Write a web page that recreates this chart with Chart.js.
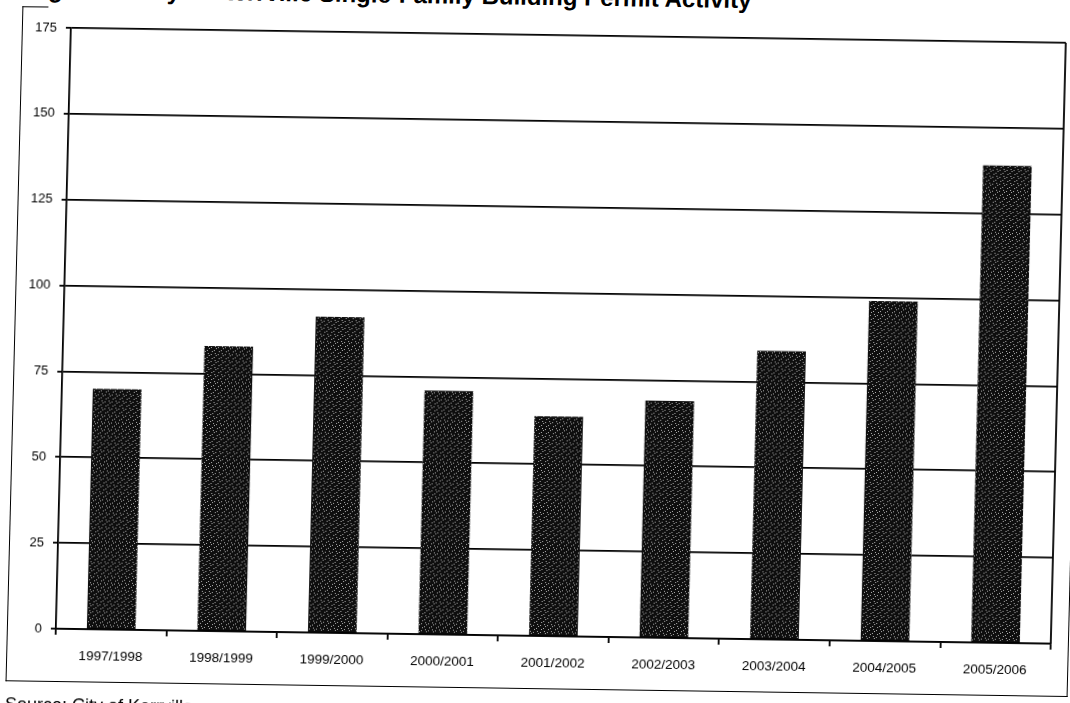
<!DOCTYPE html>
<html>
<head>
<meta charset="utf-8">
<title>Single-Family Building Permit Activity</title>
<script src="https://cdn.jsdelivr.net/npm/chart.js@4"></script>
<style>
  html, body { margin: 0; padding: 0; background: #fff; overflow: hidden; }
  #page {
    position: relative;
    width: 1070px;
    height: 703px;
    /* scanned page sits slightly crooked */
    transform: matrix(1, 0.015, -0.025, 1, 0, 0);
    transform-origin: 535px 351px;
  }
  #frame {
    position: absolute;
    left: 14px;
    top: 14px;
    width: 1060px;
    height: 674px;
    border-left: 1.5px solid #000;
    border-right: 1.5px solid #000;
    border-bottom: 1.5px solid #000;
  }
  #frameTop {
    position: absolute;
    left: 14px;
    top: 14px;
    width: 26px;
    border-top: 1.5px solid #000;
  }
  #title {
    position: absolute;
    left: 18px;
    top: -15px;
    font: bold 24px Arial, "Liberation Sans", sans-serif;
    line-height: 1;
    white-space: nowrap;
    color: #000;
  }
  #source {
    position: absolute;
    left: 14px;
    top: 703px;
    font: 18px Arial, "Liberation Sans", sans-serif;
    line-height: 1;
    white-space: nowrap;
    color: #000;
  }
  #chart { position: absolute; left: 0; top: 0; }
</style>
</head>
<body>
<div id="page">
  <div id="frame"></div>
  <div id="frameTop"></div>
  <div id="title">Figure 6: City of Kerrville Single-Family Building Permit Activity</div>
  <canvas id="chart" width="1070" height="703"></canvas>
  <div id="source">Source: City of Kerrville</div>
</div>

<script>
// fiscal years and permits issued
const lata = ["1997/1998", "1998/1999", "1999/2000", "2000/2001", "2001/2002",
              "2002/2003", "2003/2004", "2004/2005", "2005/2006"];
const pozwolenia = [70, 83, 92, 71, 64, 69, 84, 99, 139];
const osY = { min: 0, max: 175, krok: 25 };

const czcionka = 'Arial, "Liberation Sans", sans-serif';
const gruboscLinii = 1.8;

// dark stippled fill for the bars
function wzorSlupka() {
  const c = document.createElement("canvas");
  c.width = 7;
  c.height = 7;
  const g = c.getContext("2d");
  g.fillStyle = "#0e0e0e";
  g.fillRect(0, 0, 7, 7);
  g.fillStyle = "#b0b0b0";
  [[1, 2], [4, 5], [5, 1], [2, 6], [6, 3]].forEach(([x, y]) => g.fillRect(x, y, 1, 1));
  return g.createPattern(c, "repeat");
}

// right edge of the plot box
const ramkaWykresu = {
  id: "ramkaWykresu",
  afterDraw(chart) {
    const { ctx, chartArea } = chart;
    ctx.save();
    ctx.strokeStyle = "#000";
    ctx.lineWidth = gruboscLinii;
    ctx.beginPath();
    ctx.moveTo(chartArea.right, chartArea.top);
    ctx.lineTo(chartArea.right, chartArea.bottom);
    ctx.stroke();
    ctx.restore();
  },
};

new Chart(document.getElementById("chart"), {
  type: "bar",
  data: {
    labels: lata,
    datasets: [
      {
        data: pozwolenia,
        backgroundColor: wzorSlupka(),
        borderWidth: 0,
        categoryPercentage: 1,
        barPercentage: 0.44,
      },
    ],
  },
  options: {
    responsive: false,
    animation: false,
    devicePixelRatio: 1,
    layout: { padding: { left: 0, top: 35, right: 12, bottom: 27 } },
    plugins: {
      legend: { display: false },
      tooltip: { enabled: false },
    },
    scales: {
      y: {
        min: osY.min,
        max: osY.max,
        afterFit: (s) => { s.width = 63; },
        ticks: {
          stepSize: osY.krok,
          color: "#000",
          padding: 9,
          font: { family: czcionka, size: 13 },
        },
        grid: { color: "#000", lineWidth: gruboscLinii, tickLength: 5 },
        border: { color: "#000", width: gruboscLinii },
      },
      x: {
        afterFit: (s) => { s.height = 40; },
        ticks: {
          color: "#000",
          padding: 13,
          maxRotation: 0,
          font: { family: czcionka, size: 13.5 },
        },
        grid: {
          drawOnChartArea: false,
          color: "#000",
          lineWidth: gruboscLinii,
          tickLength: 6,
        },
        border: { color: "#000", width: gruboscLinii },
      },
    },
  },
  plugins: [ramkaWykresu],
});
</script>
</body>
</html>
